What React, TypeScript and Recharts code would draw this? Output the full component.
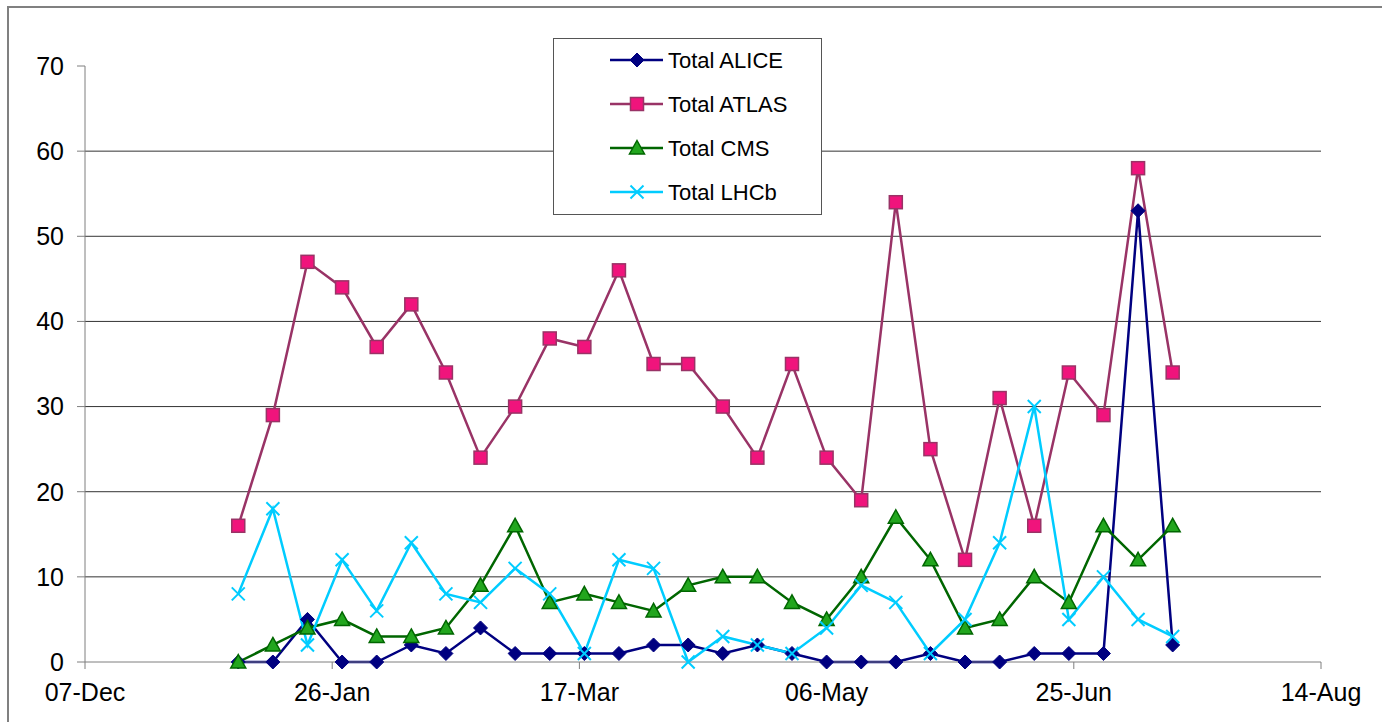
import React from 'react';
import { LineChart, Line, XAxis, YAxis, CartesianGrid, Legend } from 'recharts';

const axisStart = '2008-12-07';
const weekDates = [
  '2009-01-07', '2009-01-14', '2009-01-21', '2009-01-28', '2009-02-04', '2009-02-11', '2009-02-18',
  '2009-02-25', '2009-03-04', '2009-03-11', '2009-03-18', '2009-03-25', '2009-04-01', '2009-04-08',
  '2009-04-15', '2009-04-22', '2009-04-29', '2009-05-06', '2009-05-13', '2009-05-20', '2009-05-27',
  '2009-06-03', '2009-06-10', '2009-06-17', '2009-06-24', '2009-07-01', '2009-07-08', '2009-07-15',
];
const aliceValues = [0, 0, 5, 0, 0, 2, 1, 4, 1, 1, 1, 1, 2, 2, 1, 2, 1, 0, 0, 0, 1, 0, 0, 1, 1, 1, 53, 2];
const atlasValues = [16, 29, 47, 44, 37, 42, 34, 24, 30, 38, 37, 46, 35, 35, 30, 24, 35, 24, 19, 54, 25, 12, 31, 16, 34, 29, 58, 34];
const cmsValues = [0, 2, 4, 5, 3, 3, 4, 9, 16, 7, 8, 7, 6, 9, 10, 10, 7, 5, 10, 17, 12, 4, 5, 10, 7, 16, 12, 16];
const lhcbValues = [8, 18, 2, 12, 6, 14, 8, 7, 11, 8, 1, 12, 11, 0, 3, 2, 1, 4, 9, 7, 1, 5, 14, 30, 5, 10, 5, 3];

const xTickDates = ['2008-12-07', '2009-01-26', '2009-03-17', '2009-05-06', '2009-06-25', '2009-08-14'];
const xTickLabels = ['07-Dec', '26-Jan', '17-Mar', '06-May', '25-Jun', '14-Aug'];
const yTicks = [0, 10, 20, 30, 40, 50, 60, 70];
const gridValues = [10, 20, 30, 40, 50, 60];

const dayNum = (iso: string) =>
  Math.round((Date.parse(iso + 'T00:00:00Z') - Date.parse(axisStart + 'T00:00:00Z')) / 86400000);

const xTicks = xTickDates.map(dayNum);
const labelFor = (v: number) => {
  const i = xTicks.indexOf(v);
  return i >= 0 ? xTickLabels[i] : '';
};

const data = weekDates.map((d, i) => ({
  day: dayNum(d),
  alice: aliceValues[i],
  atlas: atlasValues[i],
  cms: cmsValues[i],
  lhcb: lhcbValues[i],
}));

type Shape = 'diamond' | 'square' | 'triangle' | 'x';
const series: { key: string; name: string; stroke: string; fill: string; edge: string; shape: Shape }[] = [
  { key: 'alice', name: 'Total ALICE', stroke: '#000080', fill: '#000080', edge: '#000080', shape: 'diamond' },
  { key: 'atlas', name: 'Total ATLAS', stroke: '#993366', fill: '#f0147c', edge: '#993366', shape: 'square' },
  { key: 'cms', name: 'Total CMS', stroke: '#006600', fill: '#22a61e', edge: '#006600', shape: 'triangle' },
  { key: 'lhcb', name: 'Total LHCb', stroke: '#00ccff', fill: 'none', edge: '#00ccff', shape: 'x' },
];

const marker = (shape: Shape, cx: number, cy: number, fill: string, edge: string, key?: string) => {
  if (shape === 'diamond') {
    const r = 7;
    return (
      <polygon key={key} points={`${cx},${cy - r} ${cx + r},${cy} ${cx},${cy + r} ${cx - r},${cy}`} fill={fill} stroke={edge} strokeWidth={1} />
    );
  }
  if (shape === 'square') {
    const r = 6.5;
    return <rect key={key} x={cx - r} y={cy - r} width={2 * r} height={2 * r} fill={fill} stroke={edge} strokeWidth={1.5} />;
  }
  if (shape === 'triangle') {
    const r = 7.5;
    return (
      <polygon key={key} points={`${cx},${cy - r} ${cx + r},${cy + r * 0.8} ${cx - r},${cy + r * 0.8}`} fill={fill} stroke={edge} strokeWidth={1.5} />
    );
  }
  const r = 6.5;
  return (
    <g key={key}>
      <line x1={cx - r} y1={cy - r} x2={cx + r} y2={cy + r} stroke={edge} strokeWidth={2} />
      <line x1={cx - r} y1={cy + r} x2={cx + r} y2={cy - r} stroke={edge} strokeWidth={2} />
    </g>
  );
};

const font = '"Liberation Sans", Arial, sans-serif';

const LegendBox = (props: any) => {
  const payload = props.payload || [];
  return (
    <div style={{ width: 269, height: 177, border: '1px solid #555', background: '#fff', boxSizing: 'border-box' }}>
      <svg width={267} height={175} style={{ display: 'block' }}>
        {payload.map((p: any, i: number) => {
          const s = series.find((x) => x.key === p.dataKey) || series[i];
          const y = 21 + i * 44;
          return (
            <g key={s.key}>
              <line x1={56} x2={109} y1={y} y2={y} stroke={s.stroke} strokeWidth={2.5} />
              {marker(s.shape, 83, y, s.fill, s.edge)}
              <text x={114} y={y} dy="0.36em" fontSize={22} fontFamily={font} fill="#000">
                {p.value}
              </text>
            </g>
          );
        })}
      </svg>
    </div>
  );
};

export default function App() {
  return (
    <div style={{ position: 'absolute', left: 0, top: 0, width: 1382, height: 722, overflow: 'hidden', background: '#fff' }}>
      <div
        style={{
          position: 'absolute',
          left: 7,
          top: 6,
          width: 1400,
          height: 740,
          borderTop: '2px solid #808080',
          borderLeft: '2px solid #808080',
        }}
      />
      <div style={{ position: 'absolute', left: 0, top: 0 }}>
        <LineChart width={1382} height={722} data={data} margin={{ top: 66, right: 61, bottom: 0, left: 0 }}>
          <CartesianGrid horizontal vertical={false} horizontalValues={gridValues} stroke="#333" strokeWidth={1} />
          <XAxis
            dataKey="day"
            type="number"
            domain={[0, 250]}
            ticks={xTicks}
            tickFormatter={labelFor}
            height={60}
            tickSize={7}
            tickMargin={14}
            stroke="#7f7f7f"
            tick={{ fill: '#000', fontSize: 25, fontFamily: font }}
            interval={0}
            allowDataOverflow
          />
          <YAxis
            type="number"
            domain={[0, 70]}
            ticks={yTicks}
            width={85}
            tickSize={8}
            tickMargin={13}
            stroke="#7f7f7f"
            tick={{ fill: '#000', fontSize: 25, fontFamily: font }}
            interval={0}
          />
          <Legend
            layout="horizontal"
            verticalAlign="middle"
            align="center"
            content={<LegendBox />}
            wrapperStyle={{ position: 'absolute', left: 553, top: 38, width: 269, height: 177 }}
          />
          {series.map((s) => (
            <Line
              key={s.key}
              dataKey={s.key}
              name={s.name}
              type="linear"
              stroke={s.stroke}
              strokeWidth={2.5}
              isAnimationActive={false}
              dot={(p: any) => marker(s.shape, p.cx, p.cy, s.fill, s.edge, `${s.key}-${p.index}`)}
              activeDot={false}
            />
          ))}
        </LineChart>
      </div>
    </div>
  );
}
